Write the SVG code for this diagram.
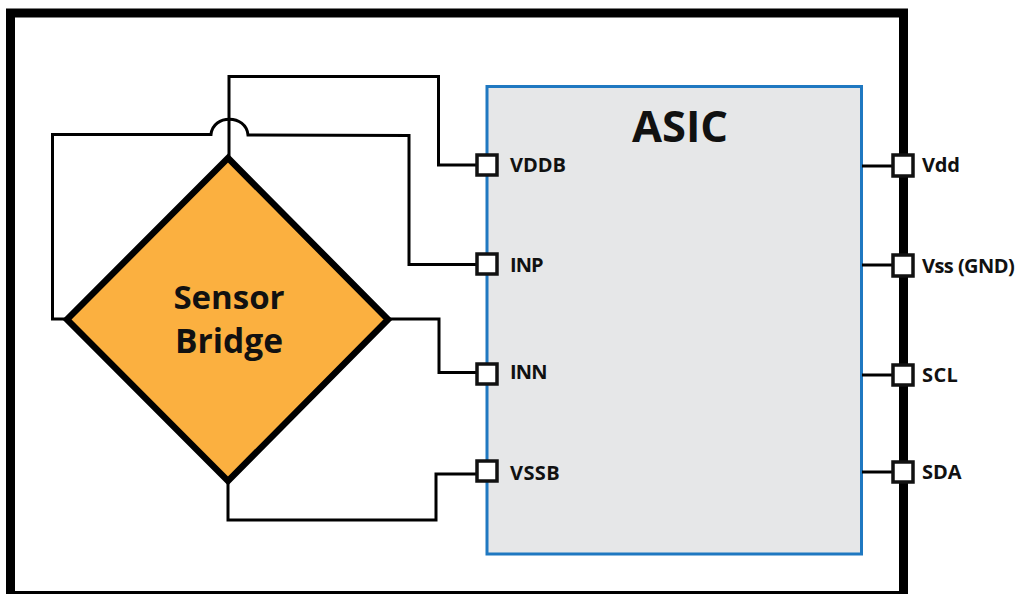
<svg xmlns="http://www.w3.org/2000/svg" width="1016" height="594" viewBox="0 0 1016 594">
<style>
.w{fill:none;stroke:#000;stroke-width:3}
.p{fill:#fff;stroke:#111;stroke-width:3.5}
text{font-family:"Open Sans","Noto Sans","Liberation Sans",sans-serif;font-weight:700;fill:#111}
.l{font-size:20px;letter-spacing:-.55px}
</style>
<rect width="1016" height="594" fill="#fff"/>
<g id="package"><rect x="10.500" y="13" width="893" height="582.500" fill="#fff" stroke="#000" stroke-width="9"/></g>
<g id="asic"><rect x="487" y="86.500" width="374.500" height="467.500" fill="#e6e7e8" stroke="#1f78c1" stroke-width="3"/><text x="680" y="142" font-size="43.500" text-anchor="middle">ASIC</text></g>
<g id="connectors">
<path class="w" d="M229 157V76.500H438.500V165H476"/>
<path class="w" d="M65 319H52.500V134.500H211C213 114 246 114 248 135L409 135.500V264.500H476"/>
<path class="w" d="M390 319H439V372.500H476"/>
<path class="w" d="M228 482V520H436V474H476"/>
<path class="w" d="M862 166H892"/><path class="w" d="M862 265H892"/><path class="w" d="M862 375H892"/><path class="w" d="M862 472H892"/>
</g>
<g id="sensor-bridge"><path d="M228 158L388 319.500L228 481L67 319.500Z" fill="#fbb040" stroke="#000" stroke-width="6.500"/><text x="229" y="309" font-size="33" text-anchor="middle">Sensor</text><text x="229" y="353" font-size="33.500" text-anchor="middle">Bridge</text></g>
<g id="pin-vddb"><rect class="p" x="477" y="155" width="20" height="20"/><text class="l" x="510" y="172" style="letter-spacing:0">VDDB</text></g>
<g id="pin-inp"><rect class="p" x="477" y="254" width="20" height="20"/><text class="l" x="510" y="272" style="letter-spacing:-.9px">INP</text></g>
<g id="pin-inn"><rect class="p" x="477" y="364" width="20" height="20"/><text class="l" x="510" y="379" style="letter-spacing:-.8px">INN</text></g>
<g id="pin-vssb"><rect class="p" x="477" y="461" width="20" height="20"/><text class="l" x="510" y="480" style="letter-spacing:.4px">VSSB</text></g>
<g id="pin-vdd"><rect class="p" x="893" y="155" width="20" height="21"/><text class="l" x="922" y="172" style="letter-spacing:-.2px">Vdd</text></g>
<g id="pin-vss"><rect class="p" x="893" y="255" width="20" height="21"/><text class="l" x="922" y="273">Vss (GND)</text></g>
<g id="pin-scl"><rect class="p" x="893" y="365" width="20" height="20"/><text class="l" x="922" y="382" style="letter-spacing:.4px">SCL</text></g>
<g id="pin-sda"><rect class="p" x="893" y="462" width="20" height="20"/><text class="l" x="922" y="479" style="letter-spacing:0">SDA</text></g>
</svg>
